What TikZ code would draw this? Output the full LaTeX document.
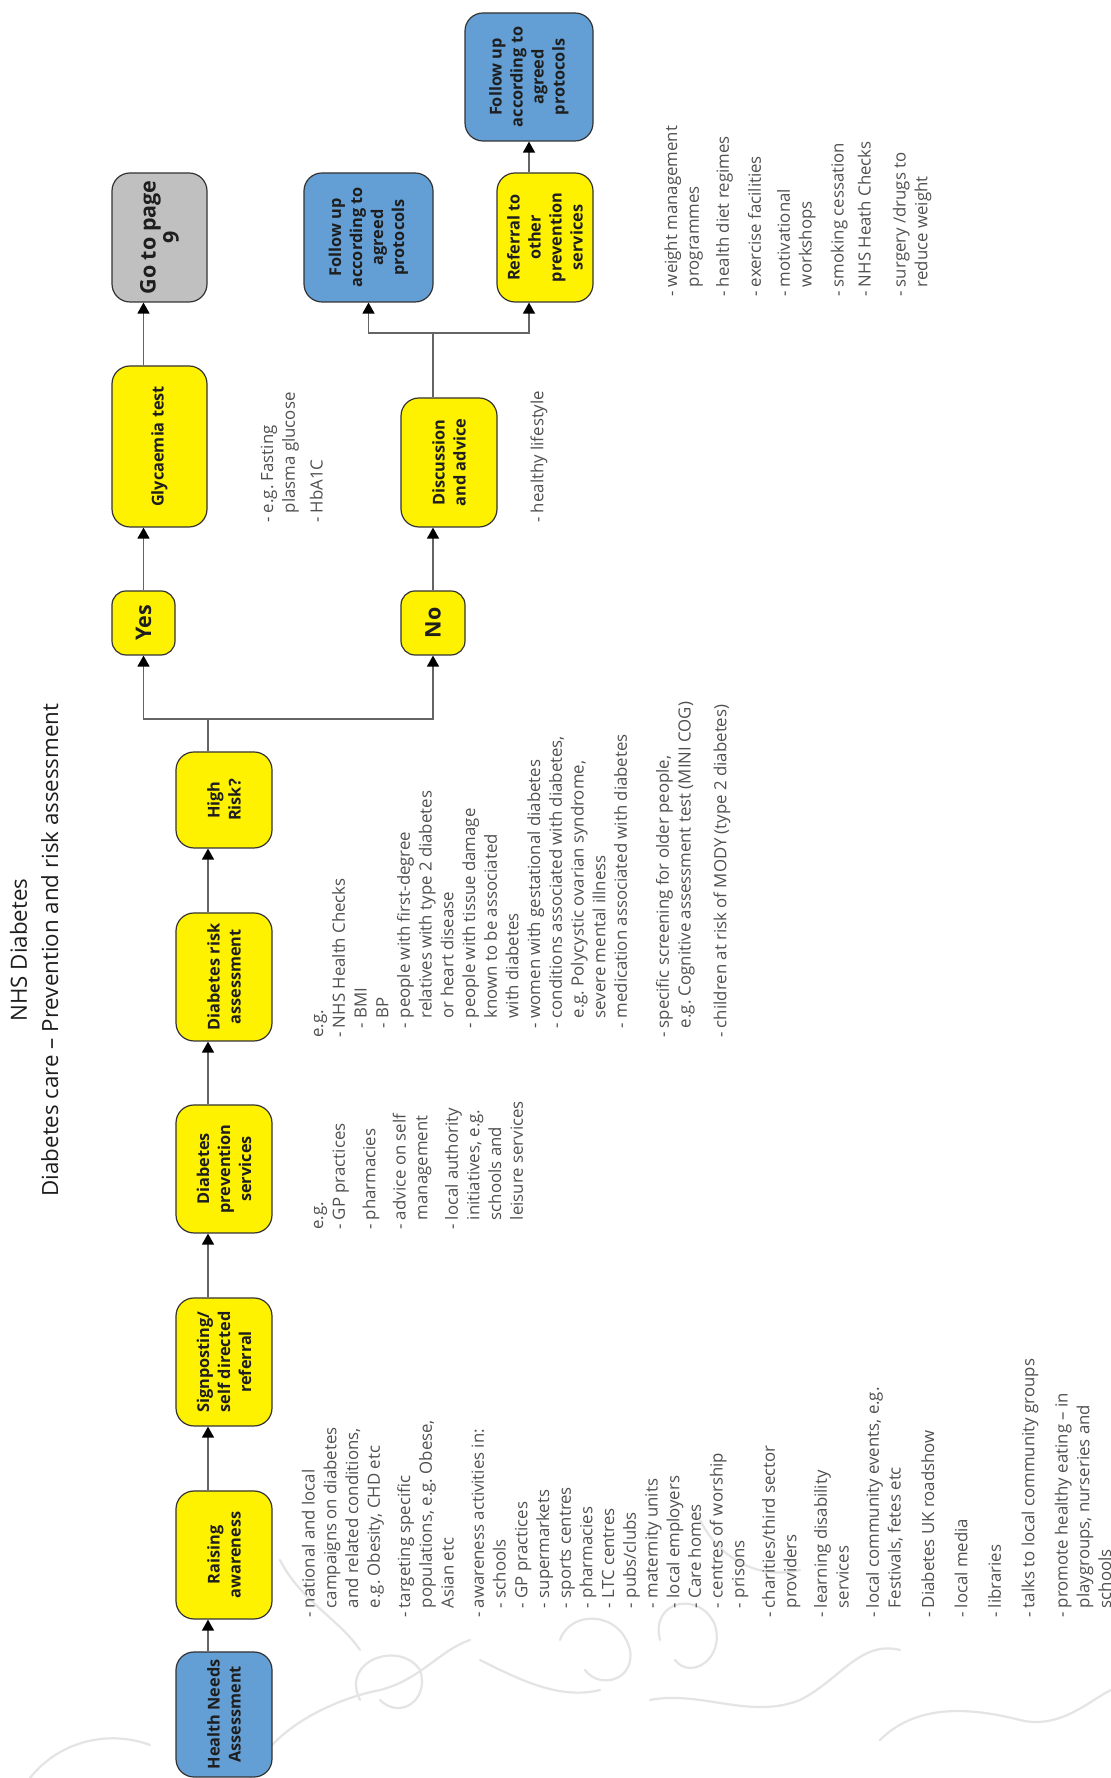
\documentclass[tikz,border=0pt]{standalone}
\usepackage{fontspec}
\setmainfont{Open Sans}
\usetikzlibrary{arrows.meta,calc}
\definecolor{nhsyellow}{RGB}{255,242,0}
\definecolor{nhsblue}{RGB}{99,159,213}
\definecolor{boxgrey}{RGB}{192,192,192}
\definecolor{edgecol}{RGB}{51,51,51}
\definecolor{conncol}{RGB}{100,100,100}
\definecolor{bodytext}{RGB}{80,80,80}
\definecolor{labeltext}{RGB}{30,30,30}
\definecolor{swirl}{RGB}{228,228,228}
\newcommand\ind{\hphantom{- }}
\begin{document}
\begin{tikzpicture}[x=1pt,y=1pt,
  box/.style={draw=edgecol, line width=1.2pt, rounded corners=18pt, inner sep=0pt, align=center,
    font=\fontsize{16.3}{21}\selectfont\bfseries, text=labeltext},
  ybox/.style={box, fill=nhsyellow},
  bbox/.style={box, fill=nhsblue},
  gbox/.style={box, fill=boxgrey},
  bigtext/.style={font=\fontsize{21.5}{23}\selectfont\bfseries},
  arr/.style={draw=conncol, line width=1.4pt, -{Triangle[width=12pt,length=11pt,color=black]}},
  ln/.style={draw=conncol, line width=1.4pt},
  lst/.style={anchor=north west, inner sep=0pt, align=left, text=bodytext,
    font=\fontsize{16.8}{21.7}\selectfont\frenchspacing},
  ttl/.style={anchor=base, inner sep=0pt, text=labeltext, font=\fontsize{22.3}{31}\selectfont},
  deco/.style={draw=swirl, line width=2.2pt, line cap=round},
]
\useasboundingbox (0,0) rectangle (1111,1778);
\fill[white] (0,0) rectangle (1111,1778);
% faint background swirls (image coordinates)
\begin{scope}[shift={(0,1778)}, yscale=-1]
\draw[deco] (30,1778) .. controls (60,1740) and (110,1730) .. (150,1745);
\draw[deco] (250,1778) .. controls (270,1730) and (330,1700) .. (380,1690) .. controls (420,1680) and (440,1650) .. (470,1640);
\draw[deco] (360,1700) .. controls (340,1660) and (400,1640) .. (420,1670) .. controls (430,1700) and (400,1720) .. (380,1700);
\draw[deco] (480,1660) .. controls (520,1680) and (560,1700) .. (600,1690);
\draw[deco] (560,1640) .. controls (570,1610) and (620,1610) .. (630,1650) .. controls (635,1680) and (600,1690) .. (585,1670);
\draw[deco] (650,1700) .. controls (700,1690) and (750,1720) .. (800,1700) .. controls (840,1680) and (860,1640) .. (900,1650);
\draw[deco] (660,1640) .. controls (650,1600) and (700,1590) .. (715,1625) .. controls (725,1660) and (690,1680) .. (675,1660);
\draw[deco] (880,1740) .. controls (920,1700) and (980,1710) .. (1020,1720) .. controls (1060,1730) and (1090,1700) .. (1111,1690);
\draw[deco] (700,1520) .. controls (720,1560) and (760,1580) .. (800,1570);
\draw[deco] (280,1560) .. controls (300,1600) and (340,1620) .. (360,1650);
\end{scope}
\begin{scope}[shift={(1111,0)}, rotate=90, transform shape]
% title
\node[ttl] (t1) at (828,1084) {NHS Diabetes};
\node[ttl] (t2) at (828,1053) {Diabetes care – Prevention and risk assessment};
% main row
\node[bbox, minimum width=125pt, minimum height=96pt] (hna) at (63.5,887) {Health Needs\\Assessment};
\node[ybox, minimum width=128pt, minimum height=96pt] (raise) at (223,887) {Raising\\awareness};
\node[ybox, minimum width=128pt, minimum height=96pt] (sign) at (416,887) {Signposting/\\self directed\\referral};
\node[ybox, minimum width=128pt, minimum height=96pt] (prev) at (609,887) {Diabetes\\prevention\\services};
\node[ybox, minimum width=128pt, minimum height=96pt] (risk) at (801,887) {Diabetes risk\\assessment};
\node[ybox, minimum width=96pt, minimum height=96pt] (high) at (978,887) {High\\Risk?};
\node[ybox, bigtext, rounded corners=14pt, minimum width=64pt, minimum height=63pt] (yes) at (1155,967.5) {Yes};
\node[ybox, bigtext, rounded corners=14pt, minimum width=64pt, minimum height=64pt] (no) at (1155,678) {No};
\node[ybox, minimum width=161pt, minimum height=95pt] (gly) at (1331.5,951.5) {Glycaemia test};
\node[ybox, minimum width=129pt, minimum height=96pt] (disc) at (1315.5,662) {Discussion\\and advice};
\node[gbox, bigtext, minimum width=129pt, minimum height=95pt] (go) at (1540.5,951.5) {Go to page\\9};
\node[bbox, minimum width=129pt, minimum height=129pt] (fu1) at (1540.5,742.5) {Follow up\\according to\\agreed\\protocols};
\node[ybox, minimum width=129pt, minimum height=96pt] (ref) at (1540.5,566) {Referral to\\other\\prevention\\services};
\node[bbox, minimum width=128pt, minimum height=128pt] (fu2) at (1701,582) {Follow up\\according to\\agreed\\protocols};
% connectors
\coordinate (mainrow) at (0,903);
\draw[arr] (hna.east |- mainrow) -- (raise.west |- mainrow);
\draw[arr] (raise.east |- mainrow) -- (sign.west |- mainrow);
\draw[arr] (sign.east |- mainrow) -- (prev.west |- mainrow);
\draw[arr] (prev.east |- mainrow) -- (risk.west |- mainrow);
\draw[arr] (risk.east |- mainrow) -- (high.west |- mainrow);
\coordinate (split1) at (1059,903);
\draw[ln] (high.east |- mainrow) -- (split1);
\draw[arr] (split1) -- (split1 |- yes) -- (yes.west);
\draw[arr] (split1) -- (split1 |- no) -- (no.west);
\draw[arr] (yes.east) -- (yes.east -| gly.west);
\draw[arr] (gly.east |- yes.east) -- (go.west |- yes.east);
\draw[arr] (no.east) -- (no.east -| disc.west);
\coordinate (split2) at (1445,678);
\draw[ln] (disc.east |- no.east) -- (split2);
\draw[arr] (split2) -- (split2 |- fu1) -- (fu1.west);
\coordinate (refrow) at (0,582);
\draw[arr] (split2) -- (split2 |- refrow) -- (ref.west |- refrow);
\draw[arr] (ref.east |- refrow) -- (fu2.west |- refrow);
% text lists
\node[lst] (listA) at (160,809.3) {\vphantom{l}- national and local\\
\ind campaigns on diabetes\\
\ind and related conditions,\\
\ind e.g. Obesity, CHD etc\\[8.7pt]
- targeting specific\\
\ind populations, e.g. Obese,\\
\ind Asian etc\\[8.7pt]
- awareness activities in:\\
\ind - schools\\
\ind - GP practices\\
\ind - supermarkets\\
\ind - sports centres\\
\ind - pharmacies\\
\ind - LTC centres\\
\ind - pubs/clubs\\
\ind - maternity units\\
\ind - local employers\\
\ind - Care homes\\
\ind - centres of worship\\
\ind - prisons\\[8.7pt]
- charities/third sector\\
\ind providers\\[8.7pt]
- learning disability\\
\ind services\\[8.7pt]
- local community events, e.g.\\
\ind Festivals, fetes etc\\[11.7pt]
- Diabetes UK roadshow\\[11.7pt]
- local media\\[11.7pt]
- libraries\\[11.7pt]
- talks to local community groups\\[11.7pt]
- promote healthy eating – in\\
\ind playgroups, nurseries and\\
\ind schools};
\node[lst] (listB) at (548,800.8) {\vphantom{l}e.g.\\
- GP practices\\[8.7pt]
- pharmacies\\[8.7pt]
- advice on self\\
\ind management\\[8.7pt]
- local authority\\
\ind initiatives, e.g.\\
\ind schools and\\
\ind leisure services};
\node[lst] (listC) at (740,800.8) {\vphantom{l}e.g.\\
- NHS Health Checks\\
\ind - BMI\\
\ind - BP\\
\ind - people with first-degree\\
\ind\ind relatives with type 2 diabetes\\
\ind\ind or heart disease\\
\ind - people with tissue damage\\
\ind\ind known to be associated\\
\ind\ind with diabetes\\
\ind - women with gestational diabetes\\
\ind - conditions associated with diabetes,\\
\ind\ind e.g. Polycystic ovarian syndrome,\\
\ind\ind severe mental illness\\
\ind - medication associated with diabetes\\[20.2pt]
- specific screening for older people,\\
\ind e.g. Cognitive assessment test (MINI COG)\\[14pt]
- children at risk of MODY (type 2 diabetes)};
\node[lst] (listD) at (1255,850.8) {\vphantom{l}- e.g. Fasting\\
\ind plasma glucose\\[6pt]
- HbA1C};
\node[lst] (listE) at (1255,580.8) {\vphantom{l}- healthy lifestyle};
\node[lst] (listF) at (1481,446.8) {\vphantom{l}- weight management\\
\ind programmes\\[8.3pt]
- health diet regimes\\[10.3pt]
- exercise facilities\\[7.3pt]
- motivational\\
\ind workshops\\[10.3pt]
- smoking cessation\\[5.3pt]
- NHS Heath Checks\\[13.3pt]
- surgery /drugs to\\
\ind reduce weight};
\end{scope}
\end{tikzpicture}
\end{document}
